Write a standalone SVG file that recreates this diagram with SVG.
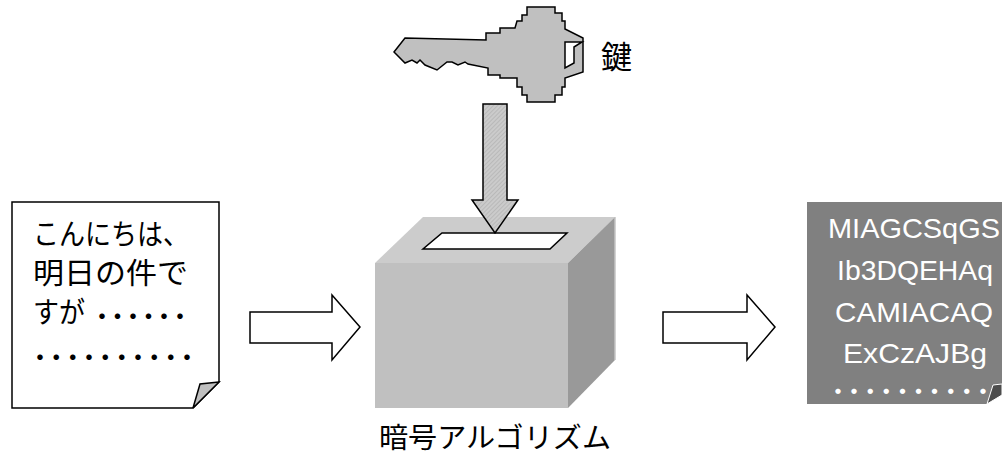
<svg xmlns="http://www.w3.org/2000/svg" width="1002" height="454" viewBox="0 0 1002 454">
  <style>
    .jp { font-family: "Noto Sans CJK JP", "Noto Sans", sans-serif; fill: #000; }
    .code { font-family: "Liberation Sans", Arial, sans-serif; fill: #fff; font-size: 28px; }
    .dots { font-family: "Noto Sans CJK JP", sans-serif; }
    .outline { stroke: #000; stroke-width: 1.5; stroke-linejoin: miter; }
    .block-arrow { fill: #fff; stroke: #000; stroke-width: 1.5; }
  </style>
  <defs>
    <!-- fine diagonal hatch used on the key-insert arrow -->
    <pattern id="hatch" width="3" height="3" patternUnits="userSpaceOnUse" patternTransform="rotate(45)">
      <rect width="3" height="3" fill="#cbcbcb"/>
      <line x1="0" y1="0" x2="0" y2="3" stroke="#adadad" stroke-width="1.2"/>
    </pattern>
  </defs>

  <rect width="1002" height="454" fill="#fff"/>

  <!-- key -->
  <g id="key">
    <path class="outline" fill="#c0c0c0" d="M394,52 L405,38 L486,40 L486,33 L500,33 L500,28 L515,28 L517,21 L522,21 L522,15 L527,15 L527,7 L555,7 L555,13 L562,13 L562,21 L565,21 L565,29 L583,38 L583,72 L565,78 L565,87 L562,87 L562,95 L555,95 L555,102 L527,102 L527,95 L522,95 L522,87 L517,87 L517,78 L500,78 L500,75 L488,75 L488,68 L468,64 L465,62 L458,65 L452,62 L447,62 L437,70 L425,65 L420,60 L417,63 L412,60 L405,63 Z"/>
    <polygon class="outline" fill="#fff" points="565,42 582,42 574,47 574,63 565,68"/>
    <text class="jp" x="601" y="68" font-size="31">鍵</text>
  </g>

  <!-- encryption box -->
  <g id="algorithm">
    <polygon points="423,217 615,217 568,263 375,263" fill="#cccccc"/>
    <rect x="375" y="263" width="193" height="145" fill="#c0c0c0"/>
    <polygon points="568,263 615,217 615,360 568,408" fill="#999999"/>
    <line x1="615" y1="217" x2="615" y2="360" stroke="#c4c4c4" stroke-width="1.5"/>
    <polygon class="outline" fill="#fff" points="442,233 567,233 550,249 423,249"/>
    <text class="jp" x="379" y="448" font-size="28" textLength="232" lengthAdjust="spacingAndGlyphs">暗号アルゴリズム</text>
  </g>

  <!-- plain text document -->
  <g id="plaintext">
    <path class="outline" fill="#fff" d="M12,202 H219 V382 L193,408 H12 Z"/>
    <polygon class="outline" fill="#c0c0c0" points="219,382 200,384 193,408"/>
    <text class="jp" x="33" y="245" font-size="29" textLength="156" lengthAdjust="spacingAndGlyphs">こんにちは、</text>
    <text class="jp" x="33" y="284" font-size="29" textLength="155" lengthAdjust="spacingAndGlyphs">明日の件で</text>
    <text class="jp" x="33" y="323" font-size="29" textLength="52" lengthAdjust="spacingAndGlyphs">すが</text>
    <text class="jp dots" font-size="26">
      <tspan x="89 104.5 120 135.5 151 167" y="326">・・・・・・</tspan>
      <tspan x="27 43.3 59.7 76 92.3 108.7 125 141.3 157.7 174" y="367">・・・・・・・・・・</tspan>
    </text>
  </g>

  <!-- cipher text document -->
  <g id="ciphertext">
    <path fill="#808080" d="M807,202 H1002 V384 L987,404 H807 Z"/>
    <polygon points="993,385 1002,384 1002,395 987,404" fill="#4d4d4d" stroke="#fff" stroke-width="1"/>
    <text class="code" x="828" y="238" textLength="172" lengthAdjust="spacingAndGlyphs">MIAGCSqGS</text>
    <text class="code" x="837" y="280" textLength="156" lengthAdjust="spacingAndGlyphs">Ib3DQEHAq</text>
    <text class="code" x="835" y="322" textLength="158" lengthAdjust="spacingAndGlyphs">CAMIACAQ</text>
    <text class="code" x="843" y="363" textLength="144" lengthAdjust="spacingAndGlyphs">ExCzAJBg</text>
    <text class="dots" font-size="25" fill="#fff">
      <tspan x="825.5 841.6 857.7 873.8 889.9 906 922.1 938.2 954.3 970.4" y="401">・・・・・・・・・・</tspan>
    </text>
  </g>

  <!-- connectors -->
  <g id="connectors">
    <polygon class="outline" fill="url(#hatch)" points="483,104 507,104 507,200 518,200 495,233 472,200 483,200"/>
    <polygon class="block-arrow" points="250,312 332,312 332,295 360,327 332,360 332,343 250,343"/>
    <polygon class="block-arrow" points="663,312 747,312 747,295 775,327 747,360 747,343 663,343"/>
  </g>
</svg>
